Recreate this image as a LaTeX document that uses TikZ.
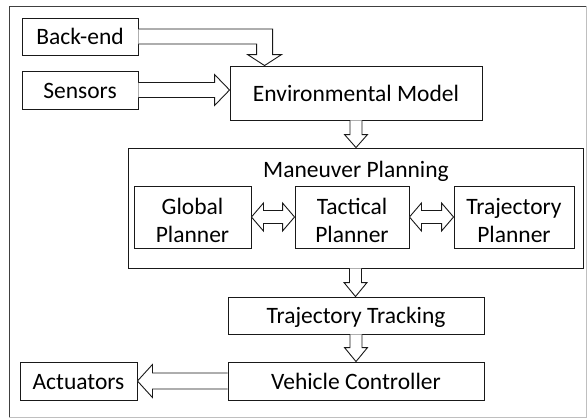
\documentclass[tikz,border=0pt]{standalone}
\usepackage{fontspec}
\setmainfont{Carlito}
\usetikzlibrary{positioning, calc}

\tikzset{
    block/.style={draw=black!90, line width=0.9pt, align=center, inner sep=0pt,
        font=\fontsize{23.5}{28}\selectfont},
    oneline/.style={block, text height=16.5pt, text depth=0pt},
    twoline/.style={block, text height=50pt, text depth=0pt},
    fat/.style={draw=black!90, line width=0.9pt, fill=white, line join=miter},
}

% hollow block arrows: #1 from, #2 to, #3 shaft half width, #4 head half width, #5 head length
\newcommand{\fatdown}[5]{%
    \draw[fat] let \p1=(#1), \p2=(#2) in
        (\x1-#3pt,\y1) -- (\x1-#3pt,\y2+#5pt) -- (\x1-#4pt,\y2+#5pt) -- (\x1,\y2)
        -- (\x1+#4pt,\y2+#5pt) -- (\x1+#3pt,\y2+#5pt) -- (\x1+#3pt,\y1);
}
\newcommand{\fatright}[5]{%
    \draw[fat] let \p1=(#1), \p2=(#2) in
        (\x1,\y1+#3pt) -- (\x2-#5pt,\y1+#3pt) -- (\x2-#5pt,\y1+#4pt) -- (\x2,\y1)
        -- (\x2-#5pt,\y1-#4pt) -- (\x2-#5pt,\y1-#3pt) -- (\x1,\y1-#3pt);
}
\newcommand{\fatleft}[5]{%
    \draw[fat] let \p1=(#1), \p2=(#2) in
        (\x1,\y1+#3pt) -- (\x2+#5pt,\y1+#3pt) -- (\x2+#5pt,\y1+#4pt) -- (\x2,\y1)
        -- (\x2+#5pt,\y1-#4pt) -- (\x2+#5pt,\y1-#3pt) -- (\x1,\y1-#3pt);
}
\newcommand{\fatboth}[5]{%
    \draw[fat] let \p1=(#1), \p2=(#2) in
        (\x1,\y1) -- (\x1+#5pt,\y1+#4pt) -- (\x1+#5pt,\y1+#3pt) -- (\x2-#5pt,\y1+#3pt)
        -- (\x2-#5pt,\y1+#4pt) -- (\x2,\y1) -- (\x2-#5pt,\y1-#4pt) -- (\x2-#5pt,\y1-#3pt)
        -- (\x1+#5pt,\y1-#3pt) -- (\x1+#5pt,\y1-#4pt) -- cycle;
}

\begin{document}
\begin{tikzpicture}[x=1pt, y=-1pt]
    \useasboundingbox (0,0) rectangle (587,418);

    % frame
    \draw[black!75, line width=0.8pt] (9,417) -- (9,6) -- (586,6);
    \draw[black!25, line width=0.8pt] (9,417) -- (586,417) -- (586,6);

    % inputs
    \node[oneline, minimum width=116pt, minimum height=37pt] (backend) at (80,36.5) {Back-end};
    \node[oneline, minimum width=116pt, minimum height=38pt] (sensors) at (80,90) {Sensors};
    \node[oneline, minimum width=252pt, minimum height=54pt] (envmodel) at (356,93) {Environmental Model};

    % planning
    \node[block, minimum width=455pt, minimum height=120pt] (maneuver) at (355.5,208) {};
    \node[block, draw=none, anchor=base] (mptitle) at (356,177) {Maneuver Planning};
    \node[twoline, minimum width=117pt, minimum height=62pt] (global) at (192.5,217) {Global\\Planner};
    \node[twoline, minimum width=114pt, minimum height=62pt] (tactical) at (352,217) {Tactical\\Planner};
    \node[twoline, minimum width=120pt, minimum height=62pt] (trajplan) at (514,217) {Trajectory\\Planner};

    % control
    \node[oneline, minimum width=256pt, minimum height=37pt] (tracking) at (356,315.5) {Trajectory Tracking};
    \node[oneline, minimum width=256pt, minimum height=38pt] (controller) at (356,381) {Vehicle Controller};
    \node[oneline, minimum width=117pt, minimum height=38pt] (actuators) at (78.5,381) {Actuators};

    % back-end feed bends down into the model
    \draw[fat] let \p1=(backend.east), \p2=($(envmodel.north west)+(35,0)$) in
        (\x1,\y1+7.5pt) -- (\x2+8pt,\y1+7.5pt) -- (\x2+8pt,\y2+11pt) -- (\x2+17pt,\y2+11pt)
        -- (\x2,\y2) -- (\x2-17pt,\y2+11pt) -- (\x2-8pt,\y2+11pt) -- (\x2-8pt,\y1-7.5pt)
        -- (\x1,\y1-7.5pt);
    \fatright{sensors.east}{envmodel.west}{7.5}{15.5}{15}

    \fatdown{envmodel.south}{maneuver.north}{6}{11.5}{13}
    \fatboth{global.east}{tactical.west}{6.5}{14}{12}
    \fatboth{tactical.east}{trajplan.west}{6.5}{14}{12}
    \fatdown{maneuver.south}{tracking.north}{6}{11.5}{14}
    \fatdown{tracking.south}{controller.north}{6}{11.5}{14}
    \fatleft{controller.west}{actuators.east}{8}{16.5}{15}
\end{tikzpicture}
\end{document}
